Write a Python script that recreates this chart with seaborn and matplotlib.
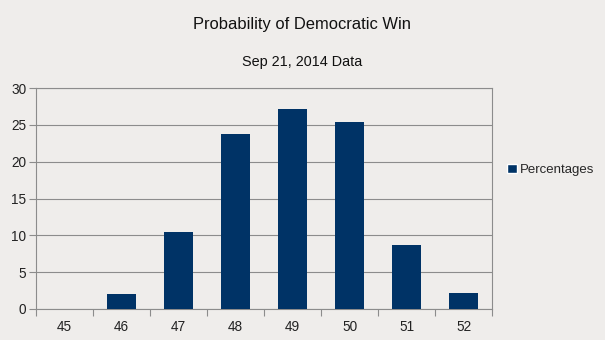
import matplotlib
matplotlib.use("Agg")
import matplotlib.pyplot as plt
import seaborn as sns
import pandas as pd
from matplotlib.patches import Patch

# Seat counts and their probabilities (%)
seats = ["45", "46", "47", "48", "49", "50", "51", "52"]
percentages = [0.0, 2.0, 10.4, 23.7, 27.2, 25.4, 8.7, 2.2]
y_ticks = [0, 5, 10, 15, 20, 25, 30]

bar_color = "#003366"
bg = "#efedeb"
grid_color = "#8c8c8c"

sns.set_theme(style="white")
plt.rcParams["font.family"] = ["Liberation Sans", "DejaVu Sans"]

df = pd.DataFrame({"seats": seats, "pct": percentages})

fig = plt.figure(figsize=(6.05, 3.4), dpi=100, facecolor=bg)
ax = fig.add_axes([36 / 605, 1 - 309 / 340, (492 - 36) / 605, (309 - 88) / 340])
ax.set_facecolor(bg)

sns.barplot(data=df, x="seats", y="pct", color=bar_color, width=0.5,
            saturation=1, linewidth=0, ax=ax, zorder=3)

ax.set_xlim(-0.5, len(seats) - 0.5)
ax.set_ylim(0, 30)
ax.set_yticks(y_ticks)
ax.yaxis.grid(True, color=grid_color, linewidth=0.8, zorder=0)
ax.set_xlabel("")
ax.set_ylabel("")

# tick marks sit between categories
ax.set_xticks([i - 0.5 for i in range(len(seats) + 1)], minor=True)
ax.tick_params(axis="x", which="major", length=0, labelsize=9.8, pad=8, colors="#222222")
ax.tick_params(axis="x", which="minor", length=5, width=0.8, color=grid_color, direction="out", bottom=True)
ax.tick_params(axis="y", length=5, width=0.8, color=grid_color, direction="out", left=True, labelsize=9.8, pad=2, labelcolor="#222222")

for side in ["left", "bottom", "top", "right"]:
    ax.spines[side].set_visible(True)
    ax.spines[side].set_color(grid_color)
    ax.spines[side].set_linewidth(0.8)

fig.text(302 / 605, 1 - 25 / 340, "Probability of Democratic Win",
         ha="center", va="center", fontsize=11.9, color="#111111")
fig.text(302 / 605, 1 - 62 / 340, "Sep 21, 2014 Data",
         ha="center", va="center", fontsize=10.4, color="#111111")

fig.legend(handles=[Patch(facecolor=bar_color, label="Percentages")],
           loc="center left", bbox_to_anchor=(507 / 605, 1 - 170 / 340),
           frameon=False, fontsize=9.5, handlelength=0.75, handleheight=0.75,
           handletextpad=0.2, borderpad=0, borderaxespad=0)

fig.savefig("out.png", dpi=100, facecolor=bg)
